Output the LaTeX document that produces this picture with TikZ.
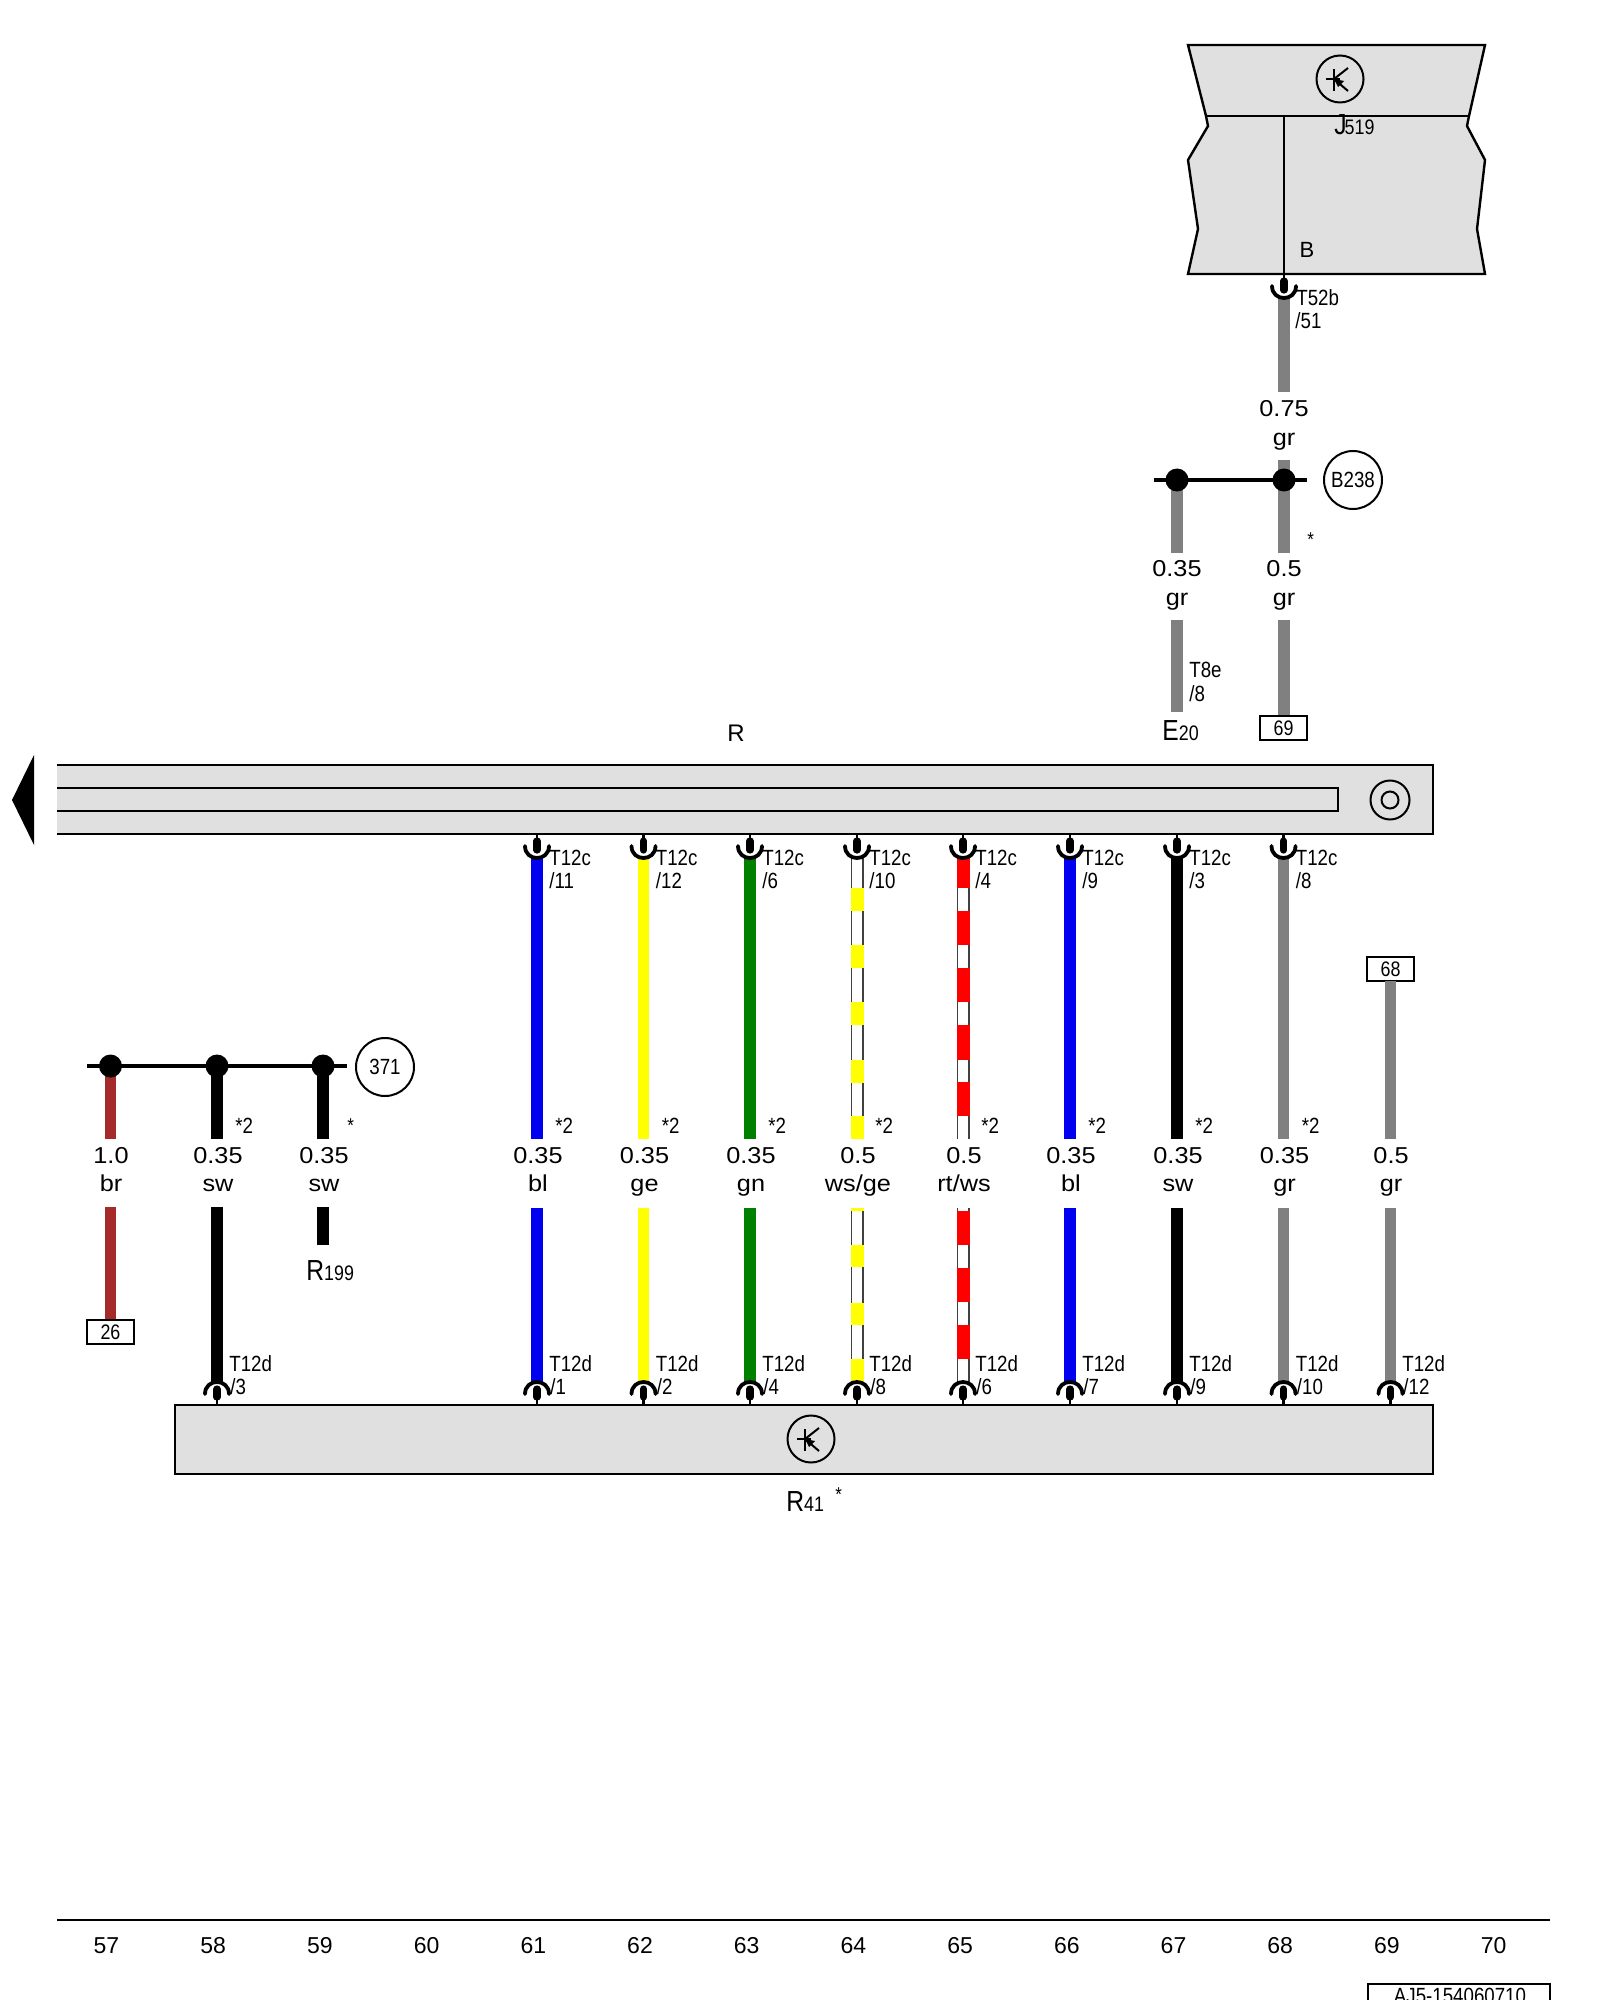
\documentclass[tikz,border=0pt]{standalone}
\usepackage{fontspec}
\setmainfont{Liberation Sans}
\newfontfamily\narrowf[FakeStretch=0.85]{Liberation Sans}
\newfontfamily\widef[FakeStretch=1.1]{Liberation Sans}
\definecolor{wgray}{HTML}{808080}
\definecolor{wblue}{HTML}{0000F0}
\definecolor{wyellow}{HTML}{FFFF00}
\definecolor{wgreen}{HTML}{008000}
\definecolor{wbrown}{HTML}{A52A2A}
\definecolor{wred}{HTML}{FF0000}
\definecolor{barfill}{HTML}{E0E0E0}
\tikzset{
  wirerun/.style={line width=5.8pt},
  edgeline/.style={line width=0.8pt,draw=black!75},
  outline/.style={draw=black,line width=1.2pt,line join=miter},
  busline/.style={draw=black,line width=1.7pt},
  pinthin/.style={draw=black,line width=1.2pt},
  pinblob/.style={draw=black,line width=3.6pt,line cap=round},
  cup/.style={draw=black,line width=1.9pt,line cap=round},
  junction/.style={circle,fill=black,inner sep=0pt,minimum size=11.5pt},
  refcircle/.style={circle,draw=black,line width=1pt,fill=white,inner sep=0pt,minimum size=29pt,font=\narrowf\fontsize{11}{12}\selectfont},
  ctrlcircle/.style={circle,draw=black,line width=1pt,inner sep=0pt,minimum size=23.5pt},
  refbox/.style={draw=black,line width=1.1pt,fill=white,inner sep=0pt,minimum width=23.5pt,minimum height=12pt,font=\narrowf\fontsize{10.5}{12}\selectfont},
  pinlabel/.style={anchor=base west,inner sep=0pt,font=\narrowf\fontsize{11}{13}\selectfont},
  gaugelabel/.style={anchor=base,inner sep=0pt,font=\widef\fontsize{11.5}{13}\selectfont},
  starlabel/.style={anchor=base west,inner sep=0pt,font=\narrowf\fontsize{11}{12}\selectfont},
  starmark/.style={anchor=west,inner sep=0pt,font=\narrowf\fontsize{10}{12}\selectfont},
  partlabel/.style={anchor=base west,inner sep=0pt,font=\narrowf\fontsize{14.5}{16}\selectfont},
  gridnum/.style={inner sep=0pt,font=\fontsize{11.5}{13}\selectfont},
}
\newcommand{\partsub}[1]{{\fontsize{10.5}{11}\selectfont #1}}
% wire between two named ends: id, x, y1, y2, colour
\newcommand{\wirerun}[5]{%
  \coordinate (#1a) at (#2,#3);\coordinate (#1b) at (#2,#4);
  \draw[wirerun,draw=#5] (#1a) -- (#1b);}
% striped wire body: id, x, y1, y2
\newcommand{\hollowrun}[4]{%
  \coordinate (#1a) at (#2,#3);\coordinate (#1b) at (#2,#4);
  \draw[edgeline] ([xshift=-2.85pt]#1a) -- ([xshift=-2.85pt]#1b);
  \draw[edgeline] ([xshift=2.85pt]#1a) -- ([xshift=2.85pt]#1b);}
% connector hanging below a bar: x, y of the bar
\newcommand{\conbelow}[2]{%
  \draw[pinthin] (#1,#2) -- (#1,#2+6);
  \draw[pinblob] (#1,#2+7) -- (#1,#2+16);
  \draw[cup] (#1-12,#2+12) .. controls (#1-12,#2+28) and (#1+12,#2+28) .. (#1+12,#2+12);}
% connector standing above a bar
\newcommand{\conabove}[2]{%
  \draw[pinthin] (#1,#2) -- (#1,#2-6);
  \draw[pinblob] (#1,#2-8) -- (#1,#2-16);
  \draw[cup] (#1-12,#2-11) .. controls (#1-12,#2-27) and (#1+12,#2-27) .. (#1+12,#2-11);}
% transistor symbol at a named centre
\newcommand{\ctrlmark}[1]{%
  \draw[line width=1pt] ([xshift=-7pt]#1.center) -- (#1.center);
  \draw[line width=1pt] ([xshift=-3pt,yshift=5pt]#1.center) -- ([xshift=-3pt,yshift=-6pt]#1.center);
  \draw[line width=1pt] ([xshift=-3pt]#1.center) -- ([xshift=4pt,yshift=5.5pt]#1.center);
  \draw[line width=1pt] ([xshift=-3pt]#1.center) -- ([xshift=4pt,yshift=-6pt]#1.center);
  \fill ([xshift=-3pt]#1.center) -- ([xshift=2pt,yshift=-1pt]#1.center) -- ([xshift=-1pt,yshift=-4pt]#1.center) -- cycle;}
\begin{document}
\begin{tikzpicture}[x=0.5pt,y=-0.5pt]
\useasboundingbox (0,0) rectangle (1600,2000);

% ---- J519
\draw[outline,fill=barfill] (1188,45) -- (1485,45) -- (1469,116) -- (1467,126) -- (1485,160) -- (1477,229) -- (1485,274)
  -- (1188,274) -- (1198,229) -- (1188,160) -- (1208,126) -- (1206,116) -- cycle;
\coordinate (jl) at (1206,116);\coordinate (jr) at (1469,116);
\coordinate (jt) at (1284,116);\coordinate (jb) at (1284,274);
\draw[outline] (jl) -- (jr);
\draw[outline] (jt) -- (jb);
\node[ctrlcircle] (jc) at (1340,79) {};
\ctrlmark{jc}
\node[partlabel] (jname) at (1334,135) {J\hspace{-1pt}\partsub{519}};
\node[anchor=center,inner sep=0pt,font=\fontsize{11}{13}\selectfont] (jB) at (1307,250) {B};
\wirerun{w52}{1284}{296}{392}{wgray}
\conbelow{1284}{274}
\node[pinlabel] (t52a) at (1296,306) {T52b};
\node[pinlabel] (t52b) at (1295,329) {/51};
\node[gaugelabel] (g75a) at (1284,417) {0.75};
\node[gaugelabel] (g75b) at (1284,445) {gr};

% ---- B238 splice
\wirerun{wb1}{1284}{460}{553}{wgray}
\wirerun{wb2}{1177}{480}{553}{wgray}
\coordinate (busal) at (1154,480);\coordinate (busar) at (1307,480);
\draw[busline] (busal) -- (busar);
\node[junction] (ja1) at (1177,480) {};
\node[junction] (ja2) at (1284,480) {};
\node[refcircle] (b238) at (1353,480) {B238};
\node[starmark] (sb) at (1307,540) {*};
\node[gaugelabel] (g35e) at (1177,576) {0.35};
\node[gaugelabel] (gre) at (1177,605) {gr};
\node[gaugelabel] (g5e) at (1284,576) {0.5};
\node[gaugelabel] (gr2) at (1284,605) {gr};
\wirerun{we}{1177}{620}{712}{wgray}
\wirerun{w69}{1284}{620}{716}{wgray}
\node[pinlabel] (t8a) at (1189,677) {T8e};
\node[pinlabel] (t8b) at (1189,701) {/8};
\node[partlabel] (e20) at (1162,740) {E\partsub{20}};
\node[refbox] (b69) at (1283.5,728) {69};

% ---- rail R
\node[inner sep=0pt,font=\fontsize{12}{14}\selectfont] (rlab) at (736,733) {R};
\fill[black] (12,800) -- (34,755) -- (34,845) -- cycle;
\fill[barfill] (57,765) rectangle (1433,834);
\draw[outline] (57,765) -- (1433,765) -- (1433,834) -- (57,834);
\draw[outline] (57,788) -- (1338,788) -- (1338,811) -- (57,811);
\node[ctrlcircle,minimum size=19.5pt] (ro) at (1390,800) {};
\node[ctrlcircle,minimum size=8.5pt] (ri) at (1390,800) {};

% ---- left splice 371
\wirerun{wbr}{110.5}{1066}{1139}{wbrown}
\wirerun{wsw1}{217}{1066}{1139}{black}
\wirerun{wsw2}{323}{1066}{1139}{black}
\coordinate (buscl) at (87,1066);\coordinate (buscr) at (347,1066);
\draw[busline] (buscl) -- (buscr);
\node[junction] (jc1) at (110.5,1066) {};
\node[junction] (jc2) at (217,1066) {};
\node[junction] (jc3) at (323,1066) {};
\node[refcircle] (c371) at (385,1067) {371};
\node[starlabel] (s58) at (235,1133) {*2};
\node[starmark] (s59) at (347,1126) {*};
\node[gaugelabel] (g57a) at (111,1163) {1.0};
\node[gaugelabel] (g57b) at (111,1191) {br};
\node[gaugelabel] (g58a) at (218,1163) {0.35};
\node[gaugelabel] (g58b) at (218,1191) {sw};
\node[gaugelabel] (g59a) at (324,1163) {0.35};
\node[gaugelabel] (g59b) at (324,1191) {sw};
\wirerun{wbr2}{110.5}{1207}{1320}{wbrown}
\node[refbox] (b26) at (110.5,1332) {26};
\wirerun{wsw1b}{217}{1207}{1384}{black}
\wirerun{wsw2b}{323}{1207}{1245}{black}
\node[partlabel] (r199) at (306,1280) {R\partsub{199}};

% ---- bottom bar R41
\draw[outline,fill=barfill] (175,1405) rectangle (1433,1474);
\node[ctrlcircle] (rc) at (811,1439) {};
\ctrlmark{rc}
\node[partlabel] (r41) at (786,1511) {R\partsub{41}};
\node[starmark] (sr) at (835,1495) {*};
\conabove{217}{1405}
\node[pinlabel] (t58a) at (229,1371) {T12d};
\node[pinlabel] (t58b) at (230,1394) {/3};

% ---- columns 61..68 and striped wires
\foreach \id/\x/\c in {
  a/537/wblue,
  b/643.5/wyellow,
  c/750/wgreen,
  f/1070/wblue,
  g/1177/black,
  h/1283.5/wgray}{
  \wirerun{u\id}{\x}{856}{1139}{\c}
  \wirerun{v\id}{\x}{1208}{1384}{\c}
}
% white/yellow
\hollowrun{ud}{857}{856}{1139}
\hollowrun{vd}{857}{1208}{1384}
\foreach \p/\q in {888/911,945/968,1002/1025,1060/1083,1116/1139,1208/1211,1245/1267,1303/1325,1359/1384}
  \fill[wyellow] (850.5,\p) rectangle (863.5,\q);
% red/white
\hollowrun{ue}{963}{856}{1139}
\hollowrun{ve}{963}{1208}{1384}
\foreach \p/\q in {856/888,911/945,968/1002,1025/1060,1082/1116,1211/1245,1268/1302,1325/1359}
  \fill[wred] (956.5,\p) rectangle (969.5,\q);

\foreach \id/\x/\tc/\td/\g/\l in {
  a/537/11/1/0.35/bl,
  b/643.5/12/2/0.35/ge,
  c/750/6/4/0.35/gn,
  d/857/10/8/0.5/ws\slash ge,
  e/963/4/6/0.5/rt\slash ws,
  f/1070/9/7/0.35/bl,
  g/1177/3/9/0.35/sw,
  h/1283.5/8/10/0.35/gr}{
  \conbelow{\x}{834}
  \conabove{\x}{1405}
  \node[pinlabel] (tc\id) at (\x+12,865) {T12c};
  \node[pinlabel] (pc\id) at (\x+12,888) {/\tc};
  \node[starlabel] (st\id) at (\x+18,1133) {*2};
  \node[gaugelabel] (ga\id) at (\x+1,1163) {\g};
  \node[gaugelabel] (gb\id) at (\x+1,1191) {\l};
  \node[pinlabel] (td\id) at (\x+12,1371) {T12d};
  \node[pinlabel] (pd\id) at (\x+13,1394) {/\td};
}

% ---- wire 68 -> R41 pin 12
\node[refbox] (b68) at (1390.5,969) {68};
\wirerun{wk}{1390.5}{981}{1139}{wgray}
\node[gaugelabel] (g5k) at (1391,1163) {0.5};
\node[gaugelabel] (grk) at (1391,1191) {gr};
\wirerun{wkb}{1390.5}{1208}{1384}{wgray}
\conabove{1390.5}{1405}
\node[pinlabel] (tdk) at (1402,1371) {T12d};
\node[pinlabel] (pdk) at (1403,1394) {/12};

% ---- footer
\coordinate (fl) at (57,1920);\coordinate (fr) at (1550,1920);
\draw[outline] (fl) -- (fr);
\foreach \n [count=\k from 0] in {57,58,59,60,61,62,63,64,65,66,67,68,69,70}
  \node[gridnum] (n\n) at ({106.5+\k*106.7},1946) {\n};
\draw[outline] (1368,2010) -- (1368,1984) -- (1550,1984) -- (1550,2010);
\node[anchor=base,inner sep=0pt,font=\narrowf\fontsize{11}{13}\selectfont] (docid) at (1460,2003) {AJ5-154060710};
\end{tikzpicture}
\end{document}
